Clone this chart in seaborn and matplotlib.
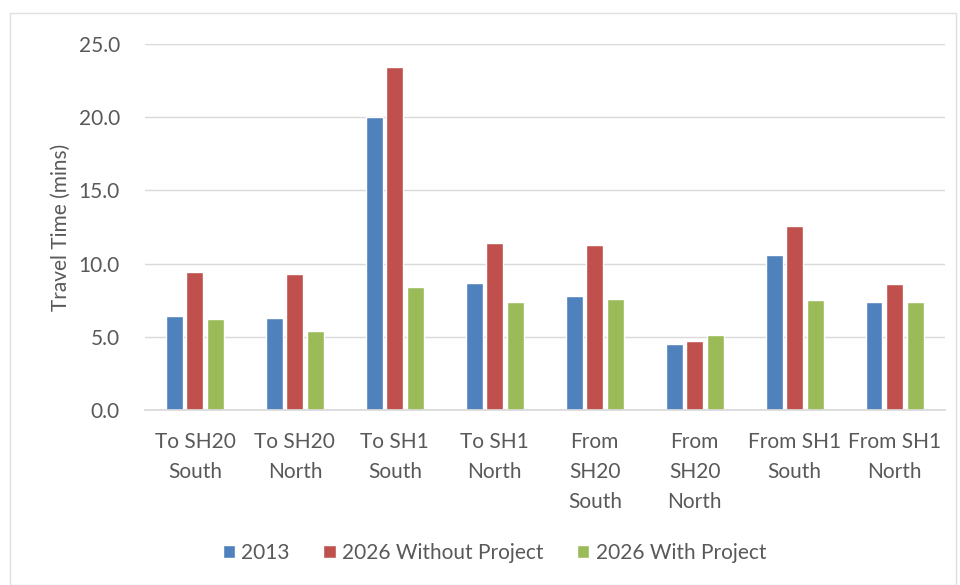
import matplotlib
matplotlib.use("Agg")
import matplotlib.pyplot as plt
import seaborn as sns
import pandas as pd
from matplotlib.patches import Rectangle

categories = ["To SH20\nSouth", "To SH20\nNorth", "To SH1\nSouth", "To SH1\nNorth",
              "From\nSH20\nSouth", "From\nSH20\nNorth", "From SH1\nSouth", "From SH1\nNorth"]
series_names = ["2013", "2026 Without Project", "2026 With Project"]
vals_2013 = [6.4, 6.3, 20.0, 8.7, 7.8, 4.5, 10.6, 7.4]
vals_2026_without = [9.4, 9.3, 23.4, 11.4, 11.3, 4.7, 12.6, 8.6]
vals_2026_with = [6.2, 5.4, 8.4, 7.4, 7.6, 5.1, 7.5, 7.4]
colors = ["#4F81BD", "#C0504D", "#9BBB59"]

rows = []
for name, vals in zip(series_names, [vals_2013, vals_2026_without, vals_2026_with]):
    for c, v in zip(categories, vals):
        rows.append({"cat": c, "series": name, "value": v})
df = pd.DataFrame(rows)

sns.set_theme(style="white")
plt.rcParams['font.family'] = ['Lato', 'DejaVu Sans']
text_color = "#595959"

fig = plt.figure(figsize=(9.6, 5.85), dpi=100)
ax = fig.add_axes([0.151, 0.299, 0.833, 0.626])
sns.barplot(data=df, x="cat", y="value", hue="series", order=categories,
            hue_order=series_names, palette=colors, width=0.62, gap=0.18,
            saturation=1, ax=ax, legend=True)

ax.set_ylim(0, 25)
ax.set_yticks([0, 5, 10, 15, 20, 25])
ax.set_yticklabels([f"{t:.1f}" for t in [0, 5, 10, 15, 20, 25]])
ax.set_xlim(-0.5, 7.5)
ax.grid(axis="y", color="#d9d9d9", linewidth=1)
ax.set_axisbelow(True)
for s in ["top", "right", "left"]:
    ax.spines[s].set_visible(False)
ax.spines["bottom"].set_color("#d9d9d9")
ax.tick_params(axis="both", length=0, colors=text_color, labelsize=15)
ax.tick_params(axis="y", pad=18)
ax.tick_params(axis="x", pad=16)
for lbl in ax.get_xticklabels():
    lbl.set_linespacing(1.6)
ax.set_xlabel("")
ax.set_ylabel("Travel Time (mins)", color=text_color, fontsize=15, labelpad=6)

handles, labels = ax.get_legend_handles_labels()
ax.legend_.remove()
fig.legend(handles, labels, loc="center", bbox_to_anchor=(0.515, 0.055), ncol=3,
           frameon=False, fontsize=15, handlelength=0.6, handleheight=0.6,
           handletextpad=0.3, columnspacing=1.6, labelcolor=text_color)

fig.patches.append(Rectangle((0.0104, 0.0), 0.985, 0.978, transform=fig.transFigure,
                             fill=False, edgecolor="#e0e0e0", linewidth=1))

fig.savefig("out.png", dpi=100)
